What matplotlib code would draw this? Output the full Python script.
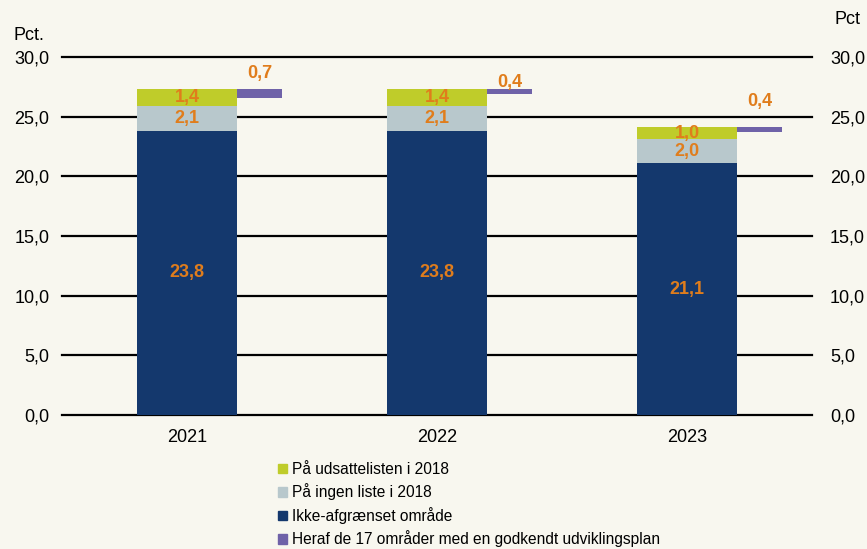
import matplotlib
matplotlib.use("Agg")
import matplotlib.pyplot as plt
from matplotlib.patches import Patch
import numpy as np

plt.rcParams['font.family'] = ['Liberation Sans', 'DejaVu Sans']

years = ["2021", "2022", "2023"]
ikke_afgraenset = [23.8, 23.8, 21.1]
ingen_liste = [2.1, 2.1, 2.0]
udsatteliste = [1.4, 1.4, 1.0]
heraf_17 = [0.7, 0.4, 0.4]
yticks = [0, 5, 10, 15, 20, 25, 30]

c_blue = "#14386D"
c_grey = "#B8C8CC"
c_green = "#BFCC2A"
c_purple = "#6F62A8"
c_orange = "#E07D1C"
bg = "#F8F7EF"

fig = plt.figure(figsize=(8.67, 5.49), dpi=100, facecolor=bg)
ax = fig.add_axes([62/867, 1-415/549, 750/867, 358/549])
ax.set_facecolor(bg)

x = np.arange(len(years))
w = 0.40
b1 = np.array(ikke_afgraenset)
b2 = b1 + np.array(ingen_liste)
tot = b2 + np.array(udsatteliste)

for yv in yticks:
    ax.axhline(yv, color="black", lw=1.6, zorder=1, clip_on=False)

ax.bar(x, ikke_afgraenset, w, color=c_blue, zorder=2)
ax.bar(x, ingen_liste, w, bottom=b1, color=c_grey, zorder=2)
ax.bar(x, udsatteliste, w, bottom=b2, color=c_green, zorder=2)
ax.bar(x + w/2, heraf_17, 0.18, bottom=tot - np.array(heraf_17), align="edge",
       color=c_purple, zorder=2)

fmt = lambda v: f"{v:.1f}".replace(".", ",")
lab_kw = dict(color=c_orange, fontsize=13, fontweight="bold", ha="center", va="center", zorder=3)
for i in range(len(years)):
    ax.text(x[i], b1[i]/2, fmt(ikke_afgraenset[i]), **lab_kw)
    ax.text(x[i], b1[i] + ingen_liste[i]/2, fmt(ingen_liste[i]), **lab_kw)
    ax.text(x[i], b2[i] + udsatteliste[i]/2, fmt(udsatteliste[i]), **lab_kw)

purple_offsets = [11, 5, 19]
for i in range(len(years)):
    ax.annotate(fmt(heraf_17[i]), xy=(x[i] + w/2 + 0.09, tot[i]), xytext=(0, purple_offsets[i]),
                textcoords="offset points", **lab_kw)

ax.set_xlim(-0.5, 2.5)
ax.set_ylim(0, 30)
ax.set_xticks(x)
ax.set_xticklabels(years, fontsize=13)
ax.set_yticks(yticks)
ax.set_yticklabels([fmt(v) for v in yticks], fontsize=13)
ax.tick_params(axis="x", length=0, pad=10)
ax.tick_params(axis="y", length=0, pad=9)
for s in ax.spines.values():
    s.set_visible(False)

ax2 = ax.twinx()
ax2.set_ylim(0, 30)
ax2.set_yticks(yticks)
ax2.set_yticklabels([fmt(v) for v in yticks], fontsize=13)
ax2.tick_params(axis="y", length=0, pad=13)
for s in ax2.spines.values():
    s.set_visible(False)

fig.text(14/867, 1-36/549, "Pct.", fontsize=13, ha="left", va="center")
fig.text(835/867, 1-20/549, "Pct", fontsize=13, ha="left", va="center")

handles = [Patch(color=c_green), Patch(color=c_grey), Patch(color=c_blue), Patch(color=c_purple)]
labels = ["På udsattelisten i 2018", "På ingen liste i 2018", "Ikke-afgrænset område",
          "Heraf de 17 områder med en godkendt udviklingsplan"]
fig.legend(handles, labels, loc="upper left", bbox_to_anchor=(278/867, 1-462/549),
           frameon=False, fontsize=11.2, handlelength=0.6, handleheight=0.6,
           handletextpad=0.3, labelspacing=0.42, borderpad=0, borderaxespad=0)

fig.savefig("out.png", dpi=100, facecolor=bg)
